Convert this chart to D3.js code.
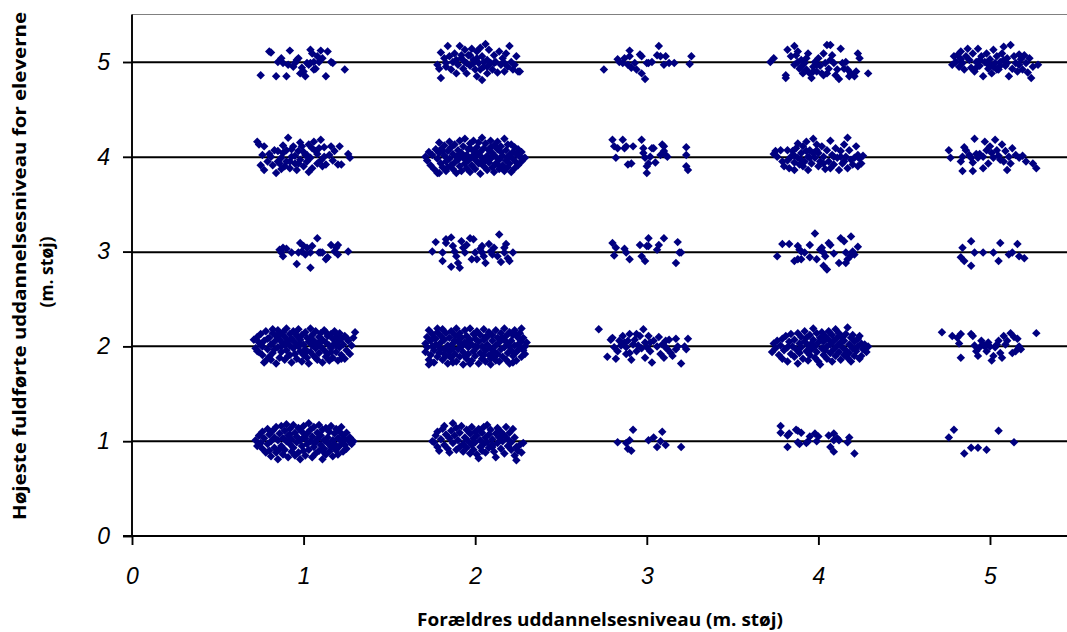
<!DOCTYPE html>
<html><head><meta charset="utf-8">
<script src="https://cdn.jsdelivr.net/npm/d3@7"></script>
<style>
html,body{margin:0;padding:0;background:#fff;}
svg{display:block;}
</style></head>
<body>
<svg id="chart" width="1067" height="632"></svg>
<script>
// ---- data ----
const xTicks = [0, 1, 2, 3, 4, 5];
const yTicks = [0, 1, 2, 3, 4, 5];
const gridLevels = [1, 2, 3, 4, 5];
const xTitle = "Forældres uddannelsesniveau (m. støj)";
const yTitle1 = "Højeste fuldførte uddannelsesniveau for eleverne";
const yTitle2 = "(m. støj)";

// noisy offsets (hundredths of a unit) around each (parent level, pupil level) cell: dx,dy pairs
const j_1_1 = [-28,1,-27,-5,-26,6,-25,-2,-24,10,-24,-8,-23,3,-22,-12,-21,13,-21,-3,-20,7,-19,-16,-19,0,-18,11,-17,-7,-17,4,-16,15,-16,-12,-15,-19,-15,1,-14,8,-13,-5,-13,16,-12,-14,-12,3,-11,11,-11,-9,-10,0,-10,18,-9,-17,-9,6,-8,-3,-8,13,-7,-11,-7,2,-6,17,-6,-7,-5,9,-5,-15,-4,-1,-4,5,-3,14,-3,-12,-2,1,-2,-19,-1,10,-1,-5,0,-10,0,16,1,3,1,-15,2,8,2,-3,3,19,3,-9,4,0,4,12,5,-17,5,5,6,-6,6,15,7,-1,7,-13,8,9,8,2,9,-10,9,17,10,-4,10,6,11,-19,11,12,12,-8,12,1,13,14,13,-14,14,4,14,-2,15,10,15,-11,16,-6,16,16,17,1,17,-16,18,8,18,-3,19,13,19,-9,20,3,20,-14,21,10,21,-5,22,15,22,0,23,-11,23,6,24,-4,25,9,25,-8,26,1,27,4,28,-3,29,0,-20,-10,-14,-9,-8,7,0,4,6,-2,12,-12,18,-8,24,2];
const j_1_2 = [-29,7,-28,-2,-27,10,-26,4,-26,-6,-25,13,-24,0,-24,-9,-23,6,-22,-15,-22,16,-21,-3,-20,9,-20,-11,-19,2,-18,14,-18,-7,-17,5,-16,-18,-16,11,-15,-1,-15,17,-14,-12,-14,7,-13,0,-13,-6,-12,15,-12,3,-11,-14,-11,10,-10,-4,-10,19,-9,6,-9,-10,-8,1,-8,13,-7,-17,-7,8,-6,-2,-6,16,-5,-8,-5,4,-4,11,-4,-13,-3,0,-3,18,-2,-5,-2,7,-1,-16,-1,12,0,2,0,-9,1,15,1,-3,2,9,2,-12,3,5,3,-18,4,19,4,-6,5,1,5,12,6,-10,6,6,7,-2,7,16,8,-14,8,3,9,10,9,-7,10,0,10,14,11,-17,11,7,12,-4,12,17,13,-11,13,4,14,11,14,-8,15,1,15,-15,16,13,16,-2,17,8,17,-12,18,3,18,16,19,-6,19,10,20,-15,20,5,21,-1,21,14,22,-9,22,8,23,2,24,-13,24,11,25,-4,26,6,27,-8,28,1,29,9,30,15,-27,-5,-25,2,-21,8,-19,-14,-17,-3,-14,12,-11,2,-8,-9,-5,14,-2,3,1,-7,4,8,7,-12,10,5,13,15,16,-6,19,1,22,-13,25,9,-23,-17,-18,18];
const j_1_3 = [-14,2,-13,-1,-12,4,-12,-5,-10,3,-7,-1,-4,-13,-2,9,-1,0,0,6,1,-3,2,4,4,-17,4,-1,5,6,8,14,9,-1,10,-1,13,-8,14,-6,16,7,18,0,19,4,20,7,20,-3,26,0,-3,-1,11,-1];
const j_1_4 = [-27,16,-26,13,-24,2,-23,-14,-23,11,-21,-5,-19,0,-17,7,-16,-17,-15,6,-14,-7,-13,-1,-12,4,-11,-10,-10,-5,-10,7,-9,20,-8,-12,-7,0,-6,11,-5,-7,-4,-14,-3,6,-2,-3,-1,11,0,-10,1,2,2,-5,3,13,4,-1,5,-12,6,16,7,6,8,-7,9,9,10,18,11,-10,12,0,13,-8,15,2,16,11,20,-8,21,11,22,-8,26,3,27,-1,-15,-5,-8,-5,-3,-7,2,2,-20,3,-18,-9,-12,12,-7,8,-2,15,3,-16,8,3,12,10,17,-4,18,6,-25,-9,0,5,5,9,10,-4,-5,1,-13,-13];
const j_1_5 = [-20,11,-19,10,-25,-14,-16,-15,-13,4,-12,-1,-10,-15,-9,-3,-8,12,-6,-5,-4,2,-3,4,-2,-12,-1,-6,0,-10,1,-15,2,-1,3,-3,4,13,5,9,6,-8,6,0,7,-7,8,6,9,0,10,12,11,4,13,-15,14,11,16,0,17,-1,24,-8,-15,0,-5,-1,4,-1];
const j_2_1 = [-25,0,-24,-1,-23,6,-22,10,-22,-6,-21,-10,-20,2,-19,13,-18,16,-18,-4,-17,7,-16,-8,-15,-12,-15,3,-14,11,-13,19,-13,-2,-12,6,-11,-9,-11,14,-10,1,-9,-6,-9,9,-8,16,-7,-3,-7,-11,-6,4,-5,12,-5,-7,-4,0,-3,8,-3,-13,-2,15,-2,-4,-1,3,-1,-9,0,10,0,-1,1,-14,1,6,2,-18,2,13,3,-6,3,1,4,9,4,-10,5,15,5,-3,6,4,6,-12,7,17,7,-1,8,7,8,-7,9,12,10,-4,10,2,11,-11,12,-17,12,8,13,14,13,-2,14,4,15,-8,15,10,16,0,17,-13,17,6,18,15,19,-5,19,2,20,9,21,-9,21,-1,22,13,23,-15,23,4,24,-6,24,-20,25,-10,26,-4,27,-12,28,-2,10,-6];
const j_2_2 = [-29,3,-29,-6,-28,10,-28,-1,-27,-14,-27,17,-26,6,-26,-9,-25,0,-25,13,-24,-4,-24,-17,-23,8,-23,2,-22,-11,-22,15,-21,-1,-21,-7,-20,11,-20,4,-19,-14,-19,18,-18,-3,-18,7,-17,-10,-17,14,-16,1,-16,-18,-15,9,-15,-5,-14,16,-14,-12,-13,3,-13,-2,-12,12,-12,-8,-11,19,-11,-16,-10,6,-10,-3,-9,-11,-9,14,-8,0,-8,9,-7,-6,-7,-19,-6,17,-6,4,-5,-13,-5,11,-4,-1,-4,-8,-3,7,-3,19,-2,-15,-2,2,-1,13,-1,-5,0,-10,0,8,1,-1,1,16,2,-18,2,5,3,-7,3,12,4,0,4,-13,5,18,5,7,6,-4,6,-16,7,10,7,2,8,-9,8,15,9,-2,9,-19,10,6,10,12,11,-12,11,-5,12,17,12,1,13,-8,13,9,14,-16,14,4,15,14,15,-3,16,-11,16,8,17,19,17,-1,18,-14,18,11,19,3,19,-7,20,15,20,-18,21,6,21,-4,22,-10,22,12,23,1,23,17,24,-6,24,-15,25,9,25,2,26,-2,26,14,27,-11,27,5,28,-4,28,9,29,0,29,-8,30,4,27,19,-27,-19,22,-17,-22,19,-13,-17,0,0,-5,3,5,-9,10,-7,-10,11,15,8,-15,-10,20,0,-20,-3,-24,9,-18,-8,-12,6,-6,-10,0,13,6,10,12,-15,18,5,24,12,-3,-18,9,-13,-9,3];
const j_2_3 = [-25,0,-23,10,-19,-1,-19,-10,-17,9,-17,13,-14,15,-14,-16,-13,6,-12,0,-11,-5,-10,-12,-9,-17,-8,11,-7,4,-6,-1,-5,7,-3,14,-2,-8,-1,13,0,-1,1,-8,3,3,4,6,5,-5,6,-12,8,8,9,0,10,-3,11,4,13,-5,14,18,15,-11,17,4,17,-1,18,8,19,-7,20,-10,22,-1,4,-1];
const j_2_4 = [-29,0,-28,-4,-27,5,-26,-9,-25,2,-24,-13,-23,8,-22,-17,-22,-2,-21,15,-21,4,-20,8,-20,-7,-19,-11,-18,1,-18,12,-17,-5,-17,-15,-16,6,-15,-2,-15,16,-14,-9,-14,10,-13,3,-13,-13,-12,-6,-12,13,-11,0,-11,-17,-10,7,-10,-3,-9,17,-9,-10,-8,4,-8,-15,-7,11,-7,-1,-6,-7,-6,19,-5,2,-5,-12,-4,8,-4,-4,-3,14,-3,-16,-2,0,-2,-9,-1,6,-1,17,0,-3,0,-13,1,10,1,2,2,-7,2,15,3,-18,3,5,4,20,4,-1,5,-10,5,9,6,-4,6,14,7,1,7,-14,8,7,8,-6,9,17,9,-2,10,4,10,-11,11,12,11,-16,12,0,12,-7,13,8,13,16,14,-3,14,-13,15,5,15,11,16,-9,16,1,17,19,17,-15,18,7,18,-4,19,13,19,-11,20,2,20,-7,21,13,21,-16,22,5,22,-2,23,10,23,-12,24,-6,24,3,25,8,25,-9,26,0,27,-5,27,5,28,-2,29,-1,-21,-17,-19,6,-16,-11,-9,2,-3,9,3,-6,9,10,13,-8,19,-1,-6,-2,0,6];
const j_2_5 = [-20,10,-22,-3,-21,-7,-20,-17,-18,4,-17,-1,-16,17,-15,6,-14,-8,-13,0,-12,9,-11,-12,-10,-3,-9,17,-8,4,-7,-7,-6,13,-6,0,-5,-12,-4,7,-3,-4,-2,14,-1,2,0,-8,1,11,1,-15,2,-1,3,15,4,6,4,-19,5,-5,6,19,7,2,7,-12,8,13,9,-1,10,-8,11,7,12,0,13,-11,14,11,15,-3,16,4,17,-10,17,-1,18,9,19,-5,20,17,21,0,22,-8,23,-3,24,6,25,-10,26,-10,-17,-5,-11,2,-5,-1,1,4,7,-5,11,-1,-1,-1,-3,7,5,0,3,-8,-8,7];
const j_3_1 = [-17,-1,-8,12,-10,1,-12,-2,-11,-8,-9,-10,1,1,4,4,6,-6,9,10,8,0,11,-4,20,-6];
const j_3_2 = [-28,18,-23,-11,-21,7,-20,9,-19,-1,-18,-13,-17,-5,-16,6,-15,1,-14,11,-13,4,-12,-1,-11,6,-10,13,-10,-7,-9,-14,-8,2,-7,7,-6,-5,-5,1,-4,11,-3,-2,-2,18,-1,-12,-1,4,0,-1,1,11,2,-5,3,-17,4,6,6,0,7,10,8,-8,9,2,10,-12,11,6,12,-3,13,7,14,-7,15,-10,17,8,17,-3,18,0,20,-18,22,0,23,-3,24,8,-6,13,-12,-8,2,4,11,-1];
const j_3_3 = [-20,9,-18,4,-19,-4,-13,3,-12,-1,-10,-8,-4,7,-3,-5,-1,-10,0,6,1,6,1,14,6,2,7,7,10,14,18,10,17,-12,19,-1,20,-1];
const j_3_4 = [-20,18,-19,11,-18,-1,-17,9,-14,18,-13,9,-12,11,-11,-8,-9,-7,-8,11,-3,18,-2,9,-2,4,-1,-1,0,-10,0,-17,1,-7,2,0,3,9,4,9,5,-6,9,13,10,11,11,2,12,0,23,10,23,2,23,-10,24,-14,10,6,8,2];
const j_3_5 = [-25,-8,-17,3,-16,0,-14,-1,-13,4,-11,-3,-10,12,-10,6,-9,-6,-7,-1,-6,-8,-4,8,-3,6,-3,-12,-1,-18,0,-1,1,-1,3,0,6,7,7,17,8,6,10,-3,11,6,13,-1,16,-1,25,-2,26,6];
const j_4_1 = [-22,16,-22,9,-18,6,-17,8,-18,-6,-13,12,-12,11,-10,9,-12,-1,-11,-3,-7,-2,-6,0,-5,5,-2,8,-1,0,0,5,6,6,7,-6,9,8,9,1,9,-11,11,3,12,1,17,-1,18,4,21,-13];
const j_4_2 = [-27,-6,-26,3,-25,-2,-24,6,-23,-9,-22,1,-21,-13,-21,8,-20,-4,-19,11,-18,-1,-18,-16,-17,5,-16,-8,-16,13,-15,0,-14,-11,-14,7,-13,-3,-12,-18,-12,14,-11,3,-11,-7,-10,10,-10,-1,-9,-13,-8,5,-8,16,-7,-5,-7,9,-6,-15,-6,1,-5,12,-5,-9,-4,3,-4,-3,-3,19,-3,7,-2,-12,-2,0,-1,14,-1,-6,0,4,0,-16,1,-19,1,9,2,-2,2,15,3,-9,3,5,4,11,4,-4,5,0,5,-13,6,16,6,7,7,-7,7,2,8,12,8,-16,9,-3,9,6,10,18,10,-10,11,1,11,9,12,-6,12,14,13,-14,13,4,14,-1,14,10,15,-9,15,6,16,-4,16,13,17,20,17,-12,18,2,18,-7,19,9,19,-16,20,-2,21,5,21,-10,22,-5,23,8,23,0,24,-13,25,-10,25,3,26,-3,27,2,29,0,28,-6,24,11,20,12];
const j_4_3 = [-24,-5,-21,8,-17,8,-12,6,-11,2,-10,0,-8,-1,-14,-10,-12,-8,-10,-8,-5,7,-5,-6,-2,19,-1,-8,1,2,2,4,3,-1,4,-5,3,-15,5,-19,6,9,7,7,9,-2,13,14,15,11,16,-1,17,-8,12,-12,16,-12,19,16,20,0,21,-3,23,5,19,-4];
const j_4_4 = [-26,3,-25,6,-24,0,-22,7,-21,-5,-20,-10,-18,7,-17,-12,-16,0,-15,6,-14,-6,-13,9,-12,-1,-12,14,-11,-8,-10,4,-9,11,-8,-5,-7,16,-6,0,-6,-14,-5,7,-4,-7,-3,19,-2,-1,-1,13,0,-10,0,4,1,-5,2,11,3,0,4,-13,5,7,6,-5,7,17,8,2,9,-8,10,9,11,-1,12,-14,13,6,14,-7,15,13,16,0,17,20,17,-12,18,7,19,-3,20,-8,22,11,23,2,23,-10,24,-2,25,-7,26,1,-14,1,-7,6,-3,4,3,-7,9,0,-9,-10,-14,-14,-18,-4,15,-5,21,-1,7,-12,-1,7,-5,-1,13,0,-10,-3];
const j_4_5 = [-28,0,-26,4,-19,-17,-19,-14,-18,13,-16,6,-14,17,-13,7,-12,0,-12,11,-10,-5,-10,2,-9,-12,-8,-1,-7,-8,-6,9,-5,-12,-4,-17,-3,-5,-2,0,-1,-10,0,4,1,-4,2,-12,3,9,4,-1,5,18,6,-7,7,18,7,2,8,7,9,-1,10,-14,11,-8,12,-18,13,14,14,-1,15,-7,16,0,17,-8,18,-15,19,-12,21,-15,22,-10,23,9,24,4,29,-12,-14,-3,-11,-7,-7,4,-3,-10,3,-14,5,-12,-1,-3];
const j_5_1 = [-24,4,-21,12,-15,-13,-11,-7,-7,-7,-2,-9,5,11,14,-1];
const j_5_2 = [-28,15,-22,11,-19,9,-18,3,-17,13,-17,-12,-11,13,-10,11,-9,1,-8,-5,-7,-10,-6,-1,-5,6,-4,2,-3,0,-2,-5,-1,4,0,0,1,-15,2,-10,3,-1,4,2,5,6,6,-7,7,-12,8,11,9,2,10,6,12,14,13,-7,14,10,15,-5,16,8,17,0,17,-1,18,-3,27,14];
const j_5_3 = [-17,-6,-16,4,-15,-10,-11,-15,-11,11,-9,-1,-4,-1,2,-1,5,-10,6,9,11,-3,16,8,17,-5,20,-7,13,-1];
const j_5_4 = [-24,7,-23,-1,-17,-5,-16,0,-15,10,-14,7,-12,2,-11,-1,-10,-6,-9,19,-8,3,-7,-1,-6,3,-4,0,-3,16,-2,7,-1,-7,0,11,1,4,2,-1,3,18,4,7,5,1,6,-3,7,13,8,-5,9,6,10,-14,11,0,12,-7,13,9,15,2,17,-1,19,1,21,-5,25,-7,27,-12,-16,-15,-10,-15,-4,-12];
const j_5_5 = [-22,-3,-21,6,-20,0,-19,7,-18,-5,-17,3,-17,11,-16,-1,-15,-8,-14,6,-13,14,-12,2,-11,-6,-10,9,-9,-10,-8,0,-7,14,-6,-4,-5,6,-4,-15,-3,0,-2,9,-1,-7,0,3,1,-12,2,13,3,-1,4,6,5,-8,6,0,7,9,8,16,9,-4,10,4,11,-15,12,18,13,-7,14,6,15,-1,16,-10,17,8,17,-3,18,3,19,-8,20,7,21,-1,22,-11,23,4,24,-17,25,-5,28,-3,2,-5,-2,-1,-6,2,6,-4,10,-1,-8,-6,0,-3,4,-8,8,2];

const cells = [
  [1,1,j_1_1],[1,2,j_1_2],[1,3,j_1_3],[1,4,j_1_4],[1,5,j_1_5],
  [2,1,j_2_1],[2,2,j_2_2],[2,3,j_2_3],[2,4,j_2_4],[2,5,j_2_5],
  [3,1,j_3_1],[3,2,j_3_2],[3,3,j_3_3],[3,4,j_3_4],[3,5,j_3_5],
  [4,1,j_4_1],[4,2,j_4_2],[4,3,j_4_3],[4,4,j_4_4],[4,5,j_4_5],
  [5,1,j_5_1],[5,2,j_5_2],[5,3,j_5_3],[5,4,j_5_4],[5,5,j_5_5]
];
const points = [];
cells.forEach(([px, py, arr]) => {
  for (let i = 0; i + 1 < arr.length; i += 2) {
    points.push({x: px + arr[i] / 100, y: py + arr[i + 1] / 100});
  }
});

// ---- drawing ----
const svg = d3.select("#chart");
svg.append("rect").attr("width", 1067).attr("height", 632).attr("fill", "#fff");

const plotLeft = 132, plotRight = 1067.2, plotTop = 14.6, plotBottom = 536;
const x = d3.scaleLinear().domain([0, 5.45]).range([plotLeft, plotRight]);
const y = d3.scaleLinear().domain([0, 5.5]).range([plotBottom, plotTop]);

// top frame line
svg.append("line").attr("x1", plotLeft).attr("x2", 1067).attr("y1", 14.5).attr("y2", 14.5)
  .attr("stroke", "#808080").attr("stroke-width", 1);

// gridlines
svg.append("g").selectAll("line").data(gridLevels).join("line")
  .attr("x1", plotLeft).attr("x2", 1067)
  .attr("y1", d => Math.round(y(d)) + 0.3).attr("y2", d => Math.round(y(d)) + 0.3)
  .attr("stroke", "#000").attr("stroke-width", 1.9);

const tickFont = "'Liberation Sans', Arial, sans-serif";

// y axis
const yAxis = svg.append("g").attr("transform", `translate(${plotLeft},0)`)
  .call(d3.axisLeft(y).tickValues(yTicks).tickSize(9).tickPadding(13).tickFormat(d3.format("d")));
yAxis.select(".domain").attr("stroke", "#000").attr("stroke-width", 1.9)
  .attr("d", `M0,${plotTop}V${plotBottom}`);
yAxis.selectAll(".tick line").attr("stroke", "#000").attr("stroke-width", 1.9);
yAxis.selectAll(".tick text").attr("font-family", tickFont).attr("font-style", "italic")
  .attr("font-size", 23).attr("fill", "#000");

// x axis
const xAxis = svg.append("g").attr("transform", `translate(0,${plotBottom})`)
  .call(d3.axisBottom(x).tickValues(xTicks).tickSize(9).tickPadding(23).tickFormat(d3.format("d")));
xAxis.select(".domain").attr("stroke", "#000").attr("stroke-width", 1.9)
  .attr("d", `M${plotLeft - 9},0H1067`);
xAxis.selectAll(".tick line").attr("stroke", "#000").attr("stroke-width", 1.9);
xAxis.selectAll(".tick text").attr("font-family", tickFont).attr("font-style", "italic")
  .attr("font-size", 23).attr("fill", "#000");

// points (diamonds)
const diamond = d3.symbol().type(d3.symbolSquare).size(36)();
svg.append("g").selectAll("path").data(points).join("path")
  .attr("d", diamond)
  .attr("transform", d => `translate(${x(d.x)},${y(d.y)}) rotate(45)`)
  .attr("fill", "#000080");

// axis titles
const titleFont = "'Open Sans', 'DejaVu Sans', sans-serif";
svg.append("text").attr("x", 600).attr("y", 626).attr("text-anchor", "middle")
  .attr("font-family", titleFont).attr("font-weight", "bold").attr("font-size", 17.5)
  .attr("textLength", 366).attr("lengthAdjust", "spacingAndGlyphs")
  .attr("fill", "#000").text(xTitle);
svg.append("text").attr("transform", "translate(26,266) rotate(-90)").attr("text-anchor", "middle")
  .attr("font-family", titleFont).attr("font-weight", "bold").attr("font-size", 17.5)
  .attr("textLength", 508).attr("lengthAdjust", "spacingAndGlyphs")
  .attr("fill", "#000").text(yTitle1);
svg.append("text").attr("transform", "translate(53,272) rotate(-90)").attr("text-anchor", "middle")
  .attr("font-family", titleFont).attr("font-weight", "bold").attr("font-size", 17.5)
  .attr("fill", "#000").text(yTitle2);
</script>
</body></html>
